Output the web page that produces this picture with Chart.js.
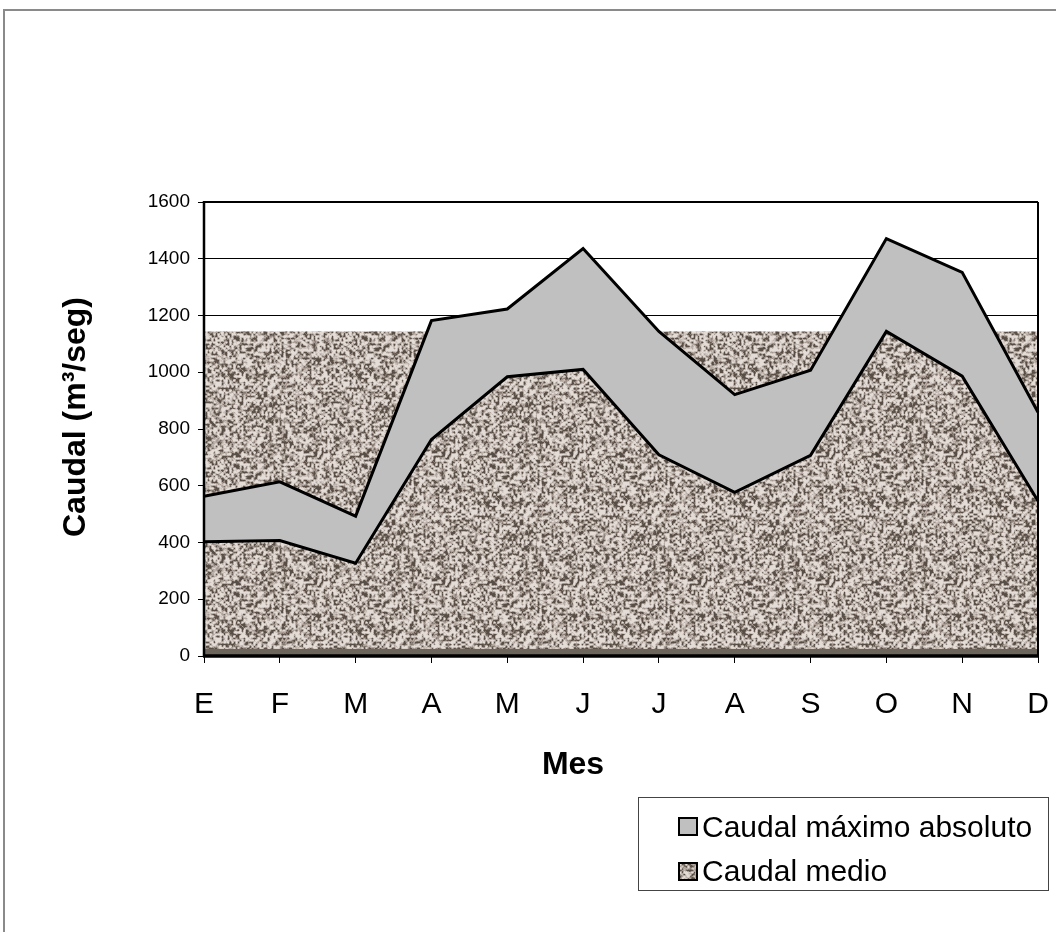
<!DOCTYPE html>
<html>
<head>
<meta charset="utf-8">
<title>Caudal</title>
<script src="https://cdn.jsdelivr.net/npm/chart.js@4.4.1/dist/chart.umd.min.js"></script>
<style>
  html, body { margin: 0; padding: 0; background: #fff; }
  #wrap { position: relative; width: 1056px; height: 932px; overflow: hidden; }
  #frame { position: absolute; left: 3px; top: 9px; width: 1100px; height: 1000px;
           border-left: 2px solid #8a8a8a; border-top: 2px solid #8a8a8a; }
  #chart { position: absolute; left: 0; top: 0; }
</style>
</head>
<body>
<div id="wrap">
  <div id="frame"></div>
  <canvas id="chart" width="1056" height="932"></canvas>
</div>
<script>
/* ── Data ── */
var months = ['E', 'F', 'M', 'A', 'M', 'J', 'J', 'A', 'S', 'O', 'N', 'D'];
var caudalMaximo = [563, 614, 493, 1182, 1223, 1436, 1144, 921, 1007, 1471, 1352, 859];
var caudalMedio = [403, 407, 327, 763, 984, 1010, 709, 577, 707, 1144, 986, 546];
var yMin = 0, yMax = 1600, yStep = 200;
var seriesNames = ['Caudal máximo absoluto', 'Caudal medio'];

var FONT = '"Liberation Sans", Arial, sans-serif';
Chart.defaults.font.family = FONT;
Chart.defaults.color = '#000';

/* ── Stone texture (deterministic noise, tiled) ── */
function makeTexture() {
  var n = 64, seed = 424242, fine = [], px = [];
  function rnd() { seed = (seed * 1103515245 + 12345) % 2147483648; return seed / 2147483648; }
  for (var i = 0; i < n * n; i++) { fine.push(rnd()); }
  var size = n * 2;
  for (var j = 0; j < size * size; j++) { px.push(rnd()); }
  function lerp(arr, m, fx, fy) {
    var x0 = Math.floor(fx), y0 = Math.floor(fy), tx = fx - x0, ty = fy - y0;
    function v(x, y) { return arr[((y % m + m) % m) * m + ((x % m + m) % m)]; }
    var a = v(x0, y0) * (1 - tx) + v(x0 + 1, y0) * tx;
    var b = v(x0, y0 + 1) * (1 - tx) + v(x0 + 1, y0 + 1) * tx;
    return a * (1 - ty) + b * ty;
  }
  var c = document.createElement('canvas');
  c.width = size; c.height = size;
  var g = c.getContext('2d');
  var img = g.createImageData(size, size);
  for (var y = 0; y < size; y++) {
    for (var x = 0; x < size; x++) {
      var t = 0.85 * lerp(fine, n, x / 2, y / 2) + 0.15 * px[y * size + x];
      t = Math.min(1, Math.max(0, (t - 0.5) * 2.1 + 0.56));
      var r, gg, bb, k;
      if (t < 0.4) {
        k = t / 0.4;
        r = 88 + (168 - 88) * k; gg = 78 + (156 - 78) * k; bb = 70 + (148 - 70) * k;
      } else {
        k = (t - 0.4) / 0.6;
        r = 168 + (228 - 168) * k; gg = 156 + (220 - 156) * k; bb = 148 + (214 - 148) * k;
      }
      var p = (y * size + x) * 4;
      img.data[p] = r; img.data[p + 1] = gg; img.data[p + 2] = bb; img.data[p + 3] = 255;
    }
  }
  g.putImageData(img, 0, 0);
  return c;
}

var canvas = document.getElementById('chart');
var ctx0 = canvas.getContext('2d');
var stone = ctx0.createPattern(makeTexture(), 'repeat');

/* ── Plot decorations: texture block, bottom band, frame, titles, legend ── */
var decor = {
  id: 'decor',
  beforeDatasetsDraw: function(chart) {
    var a = chart.chartArea, y = chart.scales.y, ctx = chart.ctx;
    var top = y.getPixelForValue(Math.max.apply(null, caudalMedio));
    ctx.save();
    ctx.fillStyle = stone;
    ctx.fillRect(a.left, top, a.right - a.left, a.bottom - top);
    ctx.restore();
  },
  afterDatasetsDraw: function(chart) {
    var a = chart.chartArea, y = chart.scales.y, ctx = chart.ctx;
    ctx.save();
    // darker band along the base of the plot
    var bandTop = y.getPixelForValue(25);
    ctx.fillStyle = 'rgb(108,101,92)';
    ctx.fillRect(a.left, bandTop, a.right - a.left, a.bottom - bandTop);
    ctx.strokeStyle = '#000';
    ctx.lineWidth = 2;
    ctx.beginPath();
    ctx.moveTo(a.left, a.top); ctx.lineTo(a.right, a.top);
    ctx.moveTo(a.right, a.top); ctx.lineTo(a.right, a.bottom);
    ctx.stroke();
    ctx.lineWidth = 2.5;
    ctx.beginPath();
    ctx.moveTo(a.left, a.top - 1); ctx.lineTo(a.left, a.bottom);
    ctx.stroke();
    ctx.lineWidth = 3.5;
    ctx.beginPath();
    ctx.moveTo(a.left - 1, a.bottom); ctx.lineTo(a.right + 1, a.bottom);
    ctx.stroke();
    ctx.restore();
  },
  afterDraw: function(chart) {
    var ctx = chart.ctx;
    ctx.save();
    ctx.fillStyle = '#000';
    ctx.font = 'bold 32px ' + FONT;
    ctx.textAlign = 'center';
    ctx.textBaseline = 'middle';
    ctx.fillText('Mes', 573, 765);
    ctx.translate(76, 417);
    ctx.rotate(-Math.PI / 2);
    ctx.fillText('Caudal (m³/seg)', 0, 0);
    ctx.restore();

    // legend
    ctx.save();
    ctx.strokeStyle = '#444';
    ctx.lineWidth = 1;
    ctx.strokeRect(638.5, 797.5, 410, 93);
    ctx.fillStyle = '#c0c0c0';
    ctx.fillRect(679, 818, 18, 17);
    ctx.fillStyle = stone;
    ctx.fillRect(679, 863, 18, 17);
    ctx.strokeStyle = '#000';
    ctx.lineWidth = 2;
    ctx.strokeRect(679, 818, 18, 17);
    ctx.strokeRect(679, 863, 18, 17);
    ctx.fillStyle = '#000';
    ctx.font = '30px ' + FONT;
    ctx.textAlign = 'left';
    ctx.textBaseline = 'alphabetic';
    ctx.fillText(seriesNames[0], 702, 837);
    ctx.fillText(seriesNames[1], 702, 881);
    ctx.restore();
  }
};

/* ── Chart ── */
new Chart(canvas, {
  type: 'line',
  data: {
    labels: months,
    datasets: [
      {
        label: seriesNames[0],
        data: caudalMaximo,
        fill: 'origin',
        backgroundColor: '#c0c0c0',
        borderColor: '#000',
        borderWidth: 3,
        pointRadius: 0,
        tension: 0,
        order: 2
      },
      {
        label: seriesNames[1],
        data: caudalMedio,
        fill: 'origin',
        backgroundColor: stone,
        borderColor: '#000',
        borderWidth: 3,
        pointRadius: 0,
        tension: 0,
        order: 1
      }
    ]
  },
  options: {
    responsive: false,
    animation: false,
    layout: { padding: { left: 0, top: 202, right: 18, bottom: 126 } },
    plugins: { legend: { display: false }, tooltip: { enabled: false } },
    scales: {
      x: {
        offset: false,
        afterFit: function(s) { s.height = 150; s.paddingLeft = 0; s.paddingRight = 0; },
        border: { display: false },
        grid: { drawOnChartArea: false, drawTicks: true, tickLength: 7, color: '#000' },
        ticks: { font: { size: 30 }, color: '#000', padding: 24, maxRotation: 0, autoSkip: false }
      },
      y: {
        min: yMin,
        max: yMax,
        afterFit: function(s) { s.width = 204; s.paddingTop = 0; s.paddingBottom = 0; },
        border: { display: false },
        grid: { color: '#000', lineWidth: 1, tickLength: 6 },
        ticks: {
          stepSize: yStep, font: { size: 19 }, color: '#000', padding: 8,
          callback: function(v) { return String(v); }
        }
      }
    }
  },
  plugins: [decor]
});
</script>
</body>
</html>
